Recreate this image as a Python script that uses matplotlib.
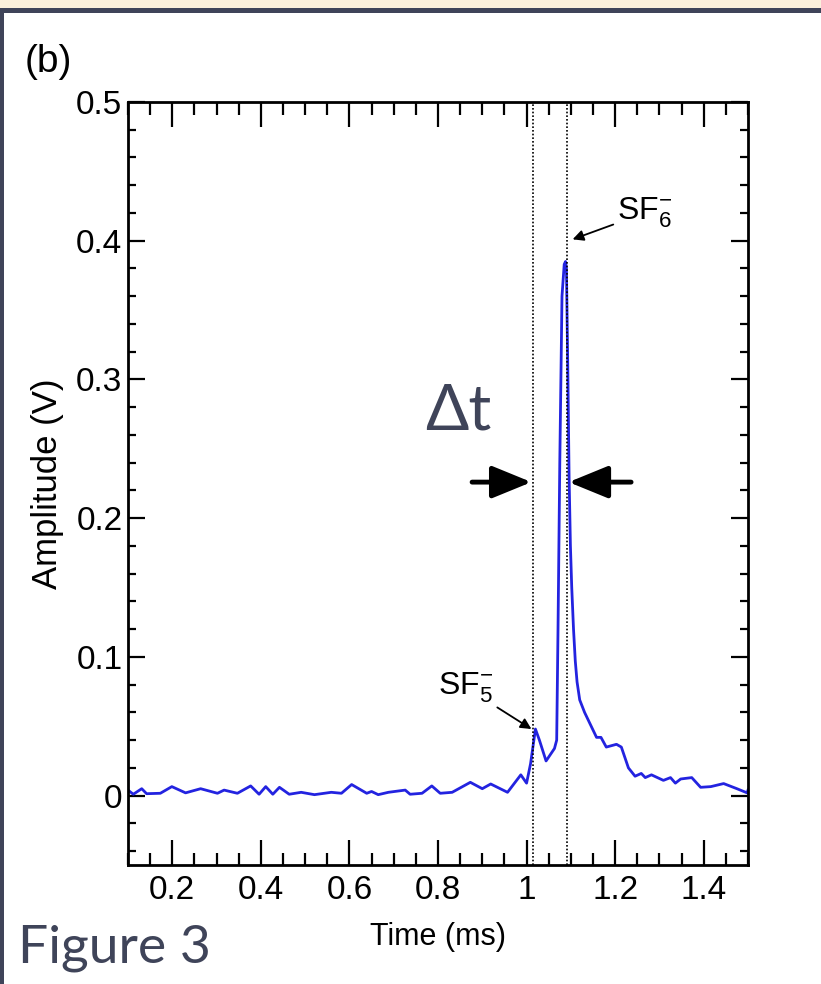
import matplotlib
matplotlib.use("Agg")
from matplotlib import pyplot as plt
from matplotlib.patches import Rectangle
from matplotlib.ticker import MultipleLocator, FuncFormatter

# signal (ms, V)
time_ms = [0.100, 0.112, 0.131, 0.142, 0.173, 0.199, 0.230, 0.264, 0.302, 0.317,
           0.347, 0.377, 0.396, 0.411, 0.427, 0.442, 0.464, 0.491, 0.521, 0.559,
           0.582, 0.605, 0.639, 0.650, 0.665, 0.688, 0.726, 0.737, 0.764, 0.786,
           0.805, 0.832, 0.873, 0.900, 0.919, 0.957, 0.987, 1.000, 1.009, 1.020,
           1.029, 1.044, 1.063, 1.068, 1.071, 1.075, 1.080, 1.085, 1.088, 1.090,
           1.093, 1.096, 1.099, 1.102, 1.106, 1.110, 1.114, 1.120, 1.131, 1.158,
           1.168, 1.180, 1.203, 1.214, 1.230, 1.245, 1.259, 1.268, 1.282, 1.309,
           1.325, 1.336, 1.348, 1.373, 1.393, 1.416, 1.445, 1.475, 1.498, 1.500]
amplitude = [0.004, 0.001, 0.005, 0.0014, 0.0017, 0.0065, 0.002, 0.005, 0.0017, 0.004,
             0.0017, 0.007, 0.001, 0.0065, 0.001, 0.006, 0.001, 0.0024, 0.0007, 0.0024,
             0.0017, 0.008, 0.0017, 0.003, 0.0007, 0.0024, 0.004, 0.001, 0.0017, 0.007,
             0.0017, 0.0024, 0.0096, 0.005, 0.0084, 0.0024, 0.015, 0.009, 0.023, 0.048,
             0.040, 0.025, 0.034, 0.040, 0.12, 0.24, 0.36, 0.383, 0.385, 0.38,
             0.31, 0.23, 0.18, 0.15, 0.12, 0.097, 0.082, 0.069, 0.060, 0.042,
             0.042, 0.035, 0.037, 0.035, 0.020, 0.014, 0.016, 0.013, 0.015, 0.011,
             0.013, 0.009, 0.012, 0.013, 0.006, 0.0065, 0.0087, 0.005, 0.002, 0.004]

# vertical markers for the two ion arrivals
marker_times = [1.0136, 1.091]
# annotation points: (text xy, arrow tip)
sf6_text = (1.205, 0.420)
sf6_tip = (1.104, 0.401)
sf5_text = (0.925, 0.078)
sf5_tip = (1.011, 0.048)
dt_level = 0.226
dt_left = (0.877, 1.011)
dt_right = (1.236, 1.095)

NAVY = "#3f4459"

plt.rcParams["font.family"] = ["Liberation Sans", "DejaVu Sans"]
plt.rcParams["mathtext.fontset"] = "custom"
plt.rcParams["mathtext.rm"] = "Liberation Sans"
plt.rcParams["mathtext.it"] = "Liberation Sans"

fig = plt.figure(figsize=(8.21, 9.84), dpi=100)
fig.patch.set_facecolor("white")

# slide frame: beige strip, navy bar on top, navy line on the left
fig.patches.append(Rectangle((0, 1 - 8 / 984), 1, 8 / 984, transform=fig.transFigure,
                             facecolor="#fbf0dc", edgecolor="none", zorder=0))
fig.patches.append(Rectangle((0, 1 - 13 / 984), 1, 5 / 984, transform=fig.transFigure,
                             facecolor=NAVY, edgecolor="none", zorder=0))
fig.patches.append(Rectangle((0, 0), 4 / 821, 1 - 13 / 984, transform=fig.transFigure,
                             facecolor=NAVY, edgecolor="none", zorder=0))

ax = fig.add_axes([128 / 821, 1 - 865 / 984, 620 / 821, 763 / 984])
ax.plot(time_ms, amplitude, color="#2323e0", lw=2)

for t in marker_times:
    ax.axvline(t, color="k", ls=(0, (1, 1.2)), lw=1.2)

ax.set_xlim(0.1, 1.5)
ax.set_ylim(-0.05, 0.5)
ax.xaxis.set_major_locator(MultipleLocator(0.2))
ax.xaxis.set_minor_locator(MultipleLocator(0.05))
ax.yaxis.set_major_locator(MultipleLocator(0.1))
ax.yaxis.set_minor_locator(MultipleLocator(0.02))
fmt = FuncFormatter(lambda v, p: "%g" % round(v, 3))
ax.xaxis.set_major_formatter(fmt)
ax.yaxis.set_major_formatter(fmt)

ax.tick_params(which="both", direction="in", top=True, right=True, width=1.6,
               labelsize=24)
ax.tick_params(axis="x", which="major", length=18, pad=7)
ax.tick_params(axis="x", which="minor", length=9)
ax.tick_params(axis="y", which="major", length=12, pad=4)
ax.tick_params(axis="y", which="minor", length=6)
for s in ax.spines.values():
    s.set_linewidth(2)

ax.set_xlabel("Time (ms)", fontsize=22, labelpad=12)
ax.set_ylabel("Amplitude (V)", fontsize=25, labelpad=9)

# ion labels
ax.annotate(r"SF$_{6}^{-}$", xy=sf6_tip, xytext=sf6_text, fontsize=23,
            va="center", ha="left",
            arrowprops=dict(arrowstyle="-|>", color="k", lw=1.3, mutation_scale=16,
                            shrinkA=1, shrinkB=0))
ax.annotate(r"SF$_{5}^{-}$", xy=sf5_tip, xytext=sf5_text, fontsize=23,
            va="center", ha="right",
            arrowprops=dict(arrowstyle="-|>", color="k", lw=1.3, mutation_scale=16,
                            shrinkA=1, shrinkB=0))

# delta-t arrows
for x0, x1 in (dt_left, dt_right):
    ax.annotate("", xy=(x1, dt_level), xytext=(x0, dt_level),
                arrowprops=dict(arrowstyle="-|>,head_length=1.1,head_width=0.45",
                                color="k", lw=3.5, mutation_scale=22,
                                shrinkA=0, shrinkB=0))

fig.text(425 / 821, 1 - 430 / 984, "\u0394t", fontsize=46, color=NAVY,
         family=["Lato", "DejaVu Sans"], va="baseline")
fig.text(25 / 821, 1 - 72 / 984, "(b)", fontsize=28, va="baseline")
fig.text(18 / 821, 1 - 963 / 984, "Figure 3", fontsize=38.5, color=NAVY,
         family=["Lato", "DejaVu Sans"], va="baseline")

plt.savefig("out.png", dpi=100)
